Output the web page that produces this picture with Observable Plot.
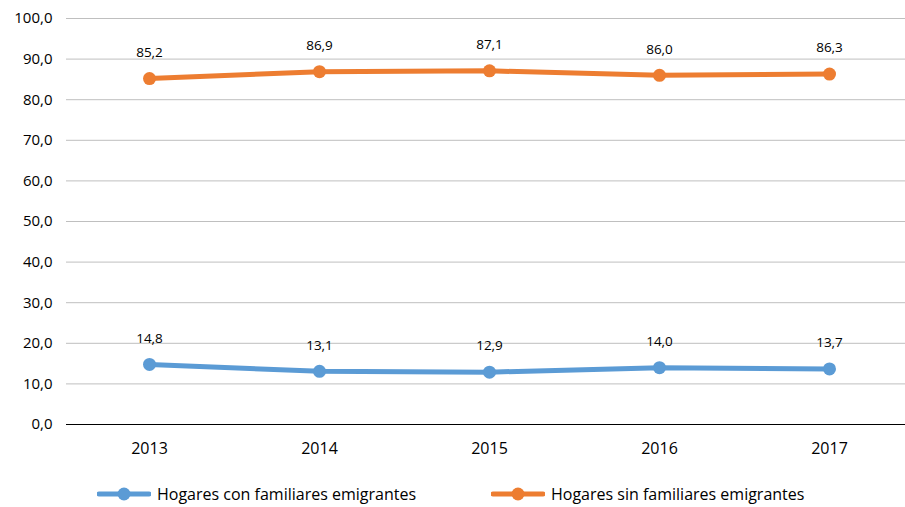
<!DOCTYPE html>
<html>
<head>
<meta charset="utf-8">
<script src="https://cdn.jsdelivr.net/npm/d3@7"></script>
<script src="https://cdn.jsdelivr.net/npm/@observablehq/plot@0.6"></script>
<style>
  body { margin: 0; background: #fff; font-family: "Open Sans", sans-serif; }
  #wrap { position: relative; width: 905px; height: 507px; overflow: hidden; }
  #legend { position: absolute; top: 484px; left: 0; width: 905px; height: 22px; font-size: 16px; line-height: 20px; color: #000; }
  .item { position: absolute; display: flex; align-items: center; }
  .item svg { margin-right: 6px; }
</style>
</head>
<body>
<div id="wrap">
  <div id="chart"></div>
  <div id="legend"></div>
</div>
<script>
const years = ["2013", "2014", "2015", "2016", "2017"];
const seriesNames = ["Hogares con familiares emigrantes", "Hogares sin familiares emigrantes"];
const conValues = [14.8, 13.1, 12.9, 14.0, 13.7];
const sinValues = [85.2, 86.9, 87.1, 86.0, 86.3];
const colors = ["#5B9BD5", "#ED7D31"];
const yTicks = [0, 10, 20, 30, 40, 50, 60, 70, 80, 90, 100];

const data = [];
years.forEach((y, i) => {
  data.push({year: y, value: conValues[i], series: seriesNames[0]});
  data.push({year: y, value: sinValues[i], series: seriesNames[1]});
});
const fmt = v => d3.format(".1f")(v).replace(".", ",");

const chart = Plot.plot({
  width: 905,
  height: 470,
  marginTop: 18,
  marginBottom: 46,
  marginLeft: 66,
  marginRight: 0,
  style: {fontFamily: "'Open Sans', sans-serif", fontSize: "15px", color: "#000"},
  x: {type: "point", domain: years, range: [149, 829], padding: 0, label: null},
  y: {domain: [0, 100], label: null},
  color: {domain: seriesNames, range: colors},
  marks: [
    Plot.ruleY(yTicks.filter(d => d > 0), {stroke: "#bfbfbf", strokeWidth: 1, strokeOpacity: 1}),
    Plot.ruleY([0], {stroke: "#000", strokeWidth: 1}),
    Plot.axisY({ticks: yTicks, tickFormat: fmt, tickSize: 0, tickPadding: 14, fontSize: 15}),
    Plot.axisX({tickSize: 0, tickPadding: 18, fontSize: 16}),
    Plot.line(data, {x: "year", y: "value", z: "series", stroke: "series", strokeWidth: 5}),
    Plot.dot(data, {x: "year", y: "value", fill: "series", r: 6.5, stroke: null}),
    Plot.text(data, {x: "year", y: "value", text: d => fmt(d.value), dy: -26, fontSize: 13.5, fill: "#000"})
  ]
});
document.getElementById("chart").appendChild(chart);

const legend = document.getElementById("legend");
const positions = [97, 491];
seriesNames.forEach((name, i) => {
  const item = document.createElement("div");
  item.className = "item";
  item.style.left = positions[i] + "px";
  item.innerHTML = `<svg width="54" height="16"><line x1="2" x2="52" y1="8" y2="8" stroke="${colors[i]}" stroke-width="5" stroke-linecap="round"/><circle cx="27" cy="8" r="6.5" fill="${colors[i]}"/></svg><span>${name}</span>`;
  legend.appendChild(item);
});
</script>
</body>
</html>
